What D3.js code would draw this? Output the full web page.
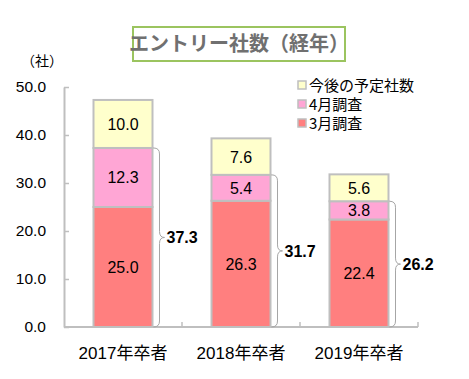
<!DOCTYPE html>
<html><head><meta charset="utf-8">
<script src="https://cdn.jsdelivr.net/npm/d3@7"></script>
<style>body{margin:0;background:#fff}svg{display:block}</style>
</head><body><svg id="c" width="469" height="379"></svg>
<script>
const categories = ["2017年卒者", "2018年卒者", "2019年卒者"];
const march = [25.0, 26.3, 22.4];
const april = [12.3, 5.4, 3.8];
const future = [10.0, 7.6, 5.6];
const totals = [37.3, 31.7, 26.2];
const seriesNames = ["3月調査", "4月調査", "今後の予定社数"];
const seriesColors = ["#ff7f7f", "#ffa6d5", "#ffffcc"];
const yTicks = [0, 10, 20, 30, 40, 50];
const title = "エントリー社数（経年）";
const unitLabel = "（社）";

const svg = d3.select("#c");
const FONT = "'Liberation Sans', Arial, 'Noto Sans CJK JP', sans-serif";
const x = d3.scaleBand().domain(categories).range([64, 418]).paddingInner(0).paddingOuter(0);
const y = d3.scaleLinear().domain([0, 50]).range([327, 87]);
const barW = x.bandwidth() * 0.5;

// title
svg.append("rect").attr("x", 133).attr("y", 27).attr("width", 212).attr("height", 34)
  .attr("fill", "#fff").attr("stroke", "#9bc45f").attr("stroke-width", 2);
svg.append("text").attr("x", 239).attr("y", 51).attr("text-anchor", "middle")
  .attr("font-family", "'Noto Sans CJK JP', sans-serif").attr("font-weight", "bold")
  .attr("font-size", 20).attr("fill", "#707070").text(title);

// unit
svg.append("text").attr("x", 42).attr("y", 66).attr("text-anchor", "middle")
  .attr("font-family", "'Noto Sans CJK JP', sans-serif").attr("font-size", 14).attr("fill", "#000").text(unitLabel);

// y axis
const yAxis = d3.axisLeft(y).tickValues(yTicks).tickFormat(d3.format(".1f")).tickSizeInner(-5).tickSizeOuter(0).tickPadding(18);
const gy = svg.append("g").attr("transform", "translate(64,0)").call(yAxis);
gy.select(".domain").attr("stroke", "#bfbfbf").attr("stroke-width", 2);
gy.selectAll(".tick line").attr("stroke", "#bfbfbf").attr("stroke-width", 1.5);
gy.selectAll(".tick text").attr("font-family", FONT).attr("font-size", 15.5).attr("fill", "#000");

// stacked bars
const stackData = categories.map((c, i) => ({ cat: c, "3月調査": march[i], "4月調査": april[i], "今後の予定社数": future[i] }));
const stack = d3.stack().keys(seriesNames)(stackData);
const color = d3.scaleOrdinal().domain(seriesNames).range(seriesColors);

stack.forEach(layer => {
  const g = svg.append("g");
  layer.forEach((d, i) => {
    const cx = x(categories[i]) + x.bandwidth() / 2;
    g.append("rect").attr("x", cx - barW / 2).attr("y", y(d[1])).attr("width", barW)
      .attr("height", y(d[0]) - y(d[1])).attr("fill", color(layer.key))
      .attr("stroke", "#bfbfbf").attr("stroke-width", 2);
    const v = d[1] - d[0];
    g.append("text").attr("x", cx).attr("y", (y(d[0]) + y(d[1])) / 2 + 6)
      .attr("text-anchor", "middle").attr("font-family", FONT).attr("font-size", 16)
      .attr("fill", "#000").text(v.toFixed(1));
  });
});

// x axis
const xAxisLine = svg.append("g");
xAxisLine.append("line").attr("x1", 64).attr("x2", 418).attr("y1", y(0)).attr("y2", y(0))
  .attr("stroke", "#bfbfbf").attr("stroke-width", 2);
categories.map(c => x(c) + x.bandwidth()).forEach(px => {
  xAxisLine.append("line").attr("x1", px).attr("x2", px).attr("y1", y(0)).attr("y2", y(0) - 5)
    .attr("stroke", "#bfbfbf").attr("stroke-width", 1.5);
});
categories.forEach(c => {
  svg.append("text").attr("x", x(c) + x.bandwidth() / 2).attr("y", 359).attr("text-anchor", "middle")
    .attr("font-family", FONT).attr("font-size", 17).attr("fill", "#000").text(c);
});

// braces
categories.forEach((c, i) => {
  const xr = x(c) + x.bandwidth() / 2 + barW / 2 + 1;
  const top = y(totals[i]), bot = y(0), mid = (top + bot) / 2;
  const xm = xr + 6, xt = xr + 11;
  const p = d3.path();
  p.moveTo(xr, top);
  p.quadraticCurveTo(xm, top, xm, top + 6);
  p.lineTo(xm, mid - 6);
  p.quadraticCurveTo(xm, mid, xt, mid);
  p.quadraticCurveTo(xm, mid, xm, mid + 6);
  p.lineTo(xm, bot - 6);
  p.quadraticCurveTo(xm, bot, xr, bot);
  svg.append("path").attr("d", p.toString()).attr("fill", "none").attr("stroke", "#a6a6a6").attr("stroke-width", 1);
  svg.append("text").attr("x", xt + 2).attr("y", mid + 6).attr("font-family", FONT)
    .attr("font-weight", "bold").attr("font-size", 16).attr("fill", "#000").text(totals[i].toFixed(1));
});

// legend
const legendOrder = ["今後の予定社数", "4月調査", "3月調査"];
legendOrder.forEach((k, i) => {
  const ly = 85 + i * 19;
  svg.append("rect").attr("x", 298).attr("y", ly - 4).attr("width", 8).attr("height", 8)
    .attr("fill", color(k)).attr("stroke", "#bfbfbf").attr("stroke-width", 1.5);
  svg.append("text").attr("x", 309).attr("y", ly + 6).attr("font-family", "'Noto Sans CJK JP', sans-serif")
    .attr("font-size", 15).attr("fill", "#000").text(k);
});
</script></body></html>
